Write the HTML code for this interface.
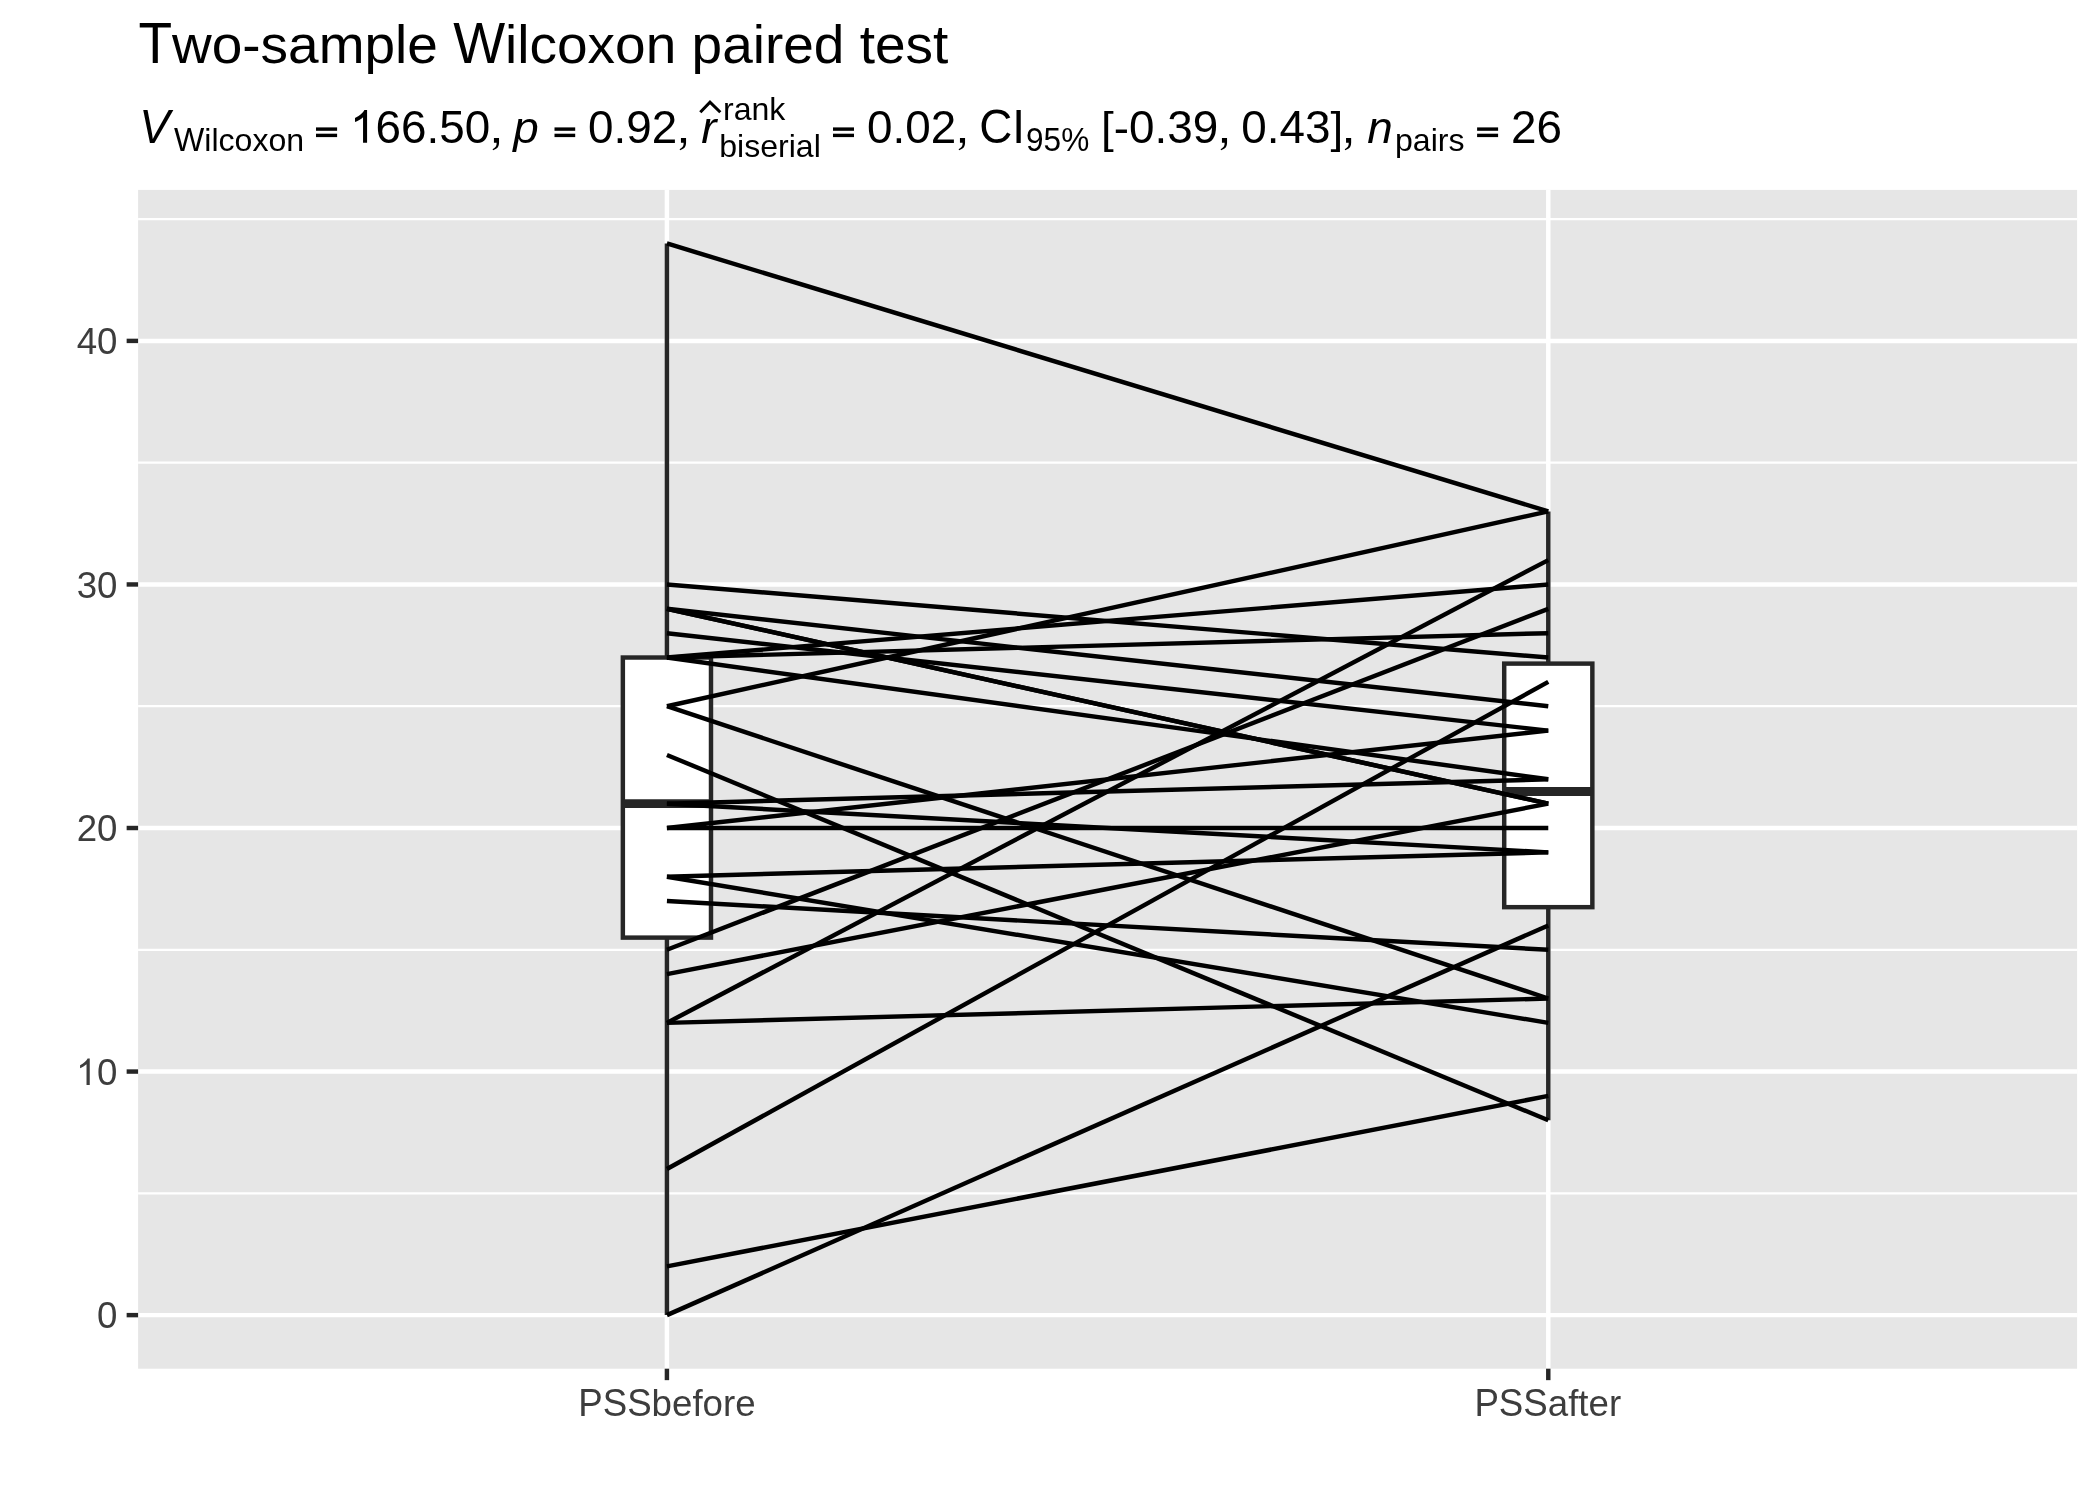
<!DOCTYPE html>
<html><head><meta charset="utf-8"><title>Two-sample Wilcoxon paired test</title>
<style>
html,body{margin:0;padding:0;background:#fff;}
svg{display:block;filter:grayscale(1);}
text{font-family:"Liberation Sans",sans-serif;font-kerning:none;}
</style></head><body>
<svg width="2100" height="1500" viewBox="0 0 2100 1500">
<rect x="0" y="0" width="2100" height="1500" fill="#fff"/>
<rect x="138.10" y="189.90" width="1939.00" height="1178.80" fill="#E6E6E6"/>
<g stroke="#fff" stroke-width="2.22" fill="none">
<line x1="138.10" x2="2077.10" y1="1193.34" y2="1193.34"/>
<line x1="138.10" x2="2077.10" y1="949.79" y2="949.79"/>
<line x1="138.10" x2="2077.10" y1="706.23" y2="706.23"/>
<line x1="138.10" x2="2077.10" y1="462.68" y2="462.68"/>
<line x1="138.10" x2="2077.10" y1="219.13" y2="219.13"/>
</g>
<g stroke="#fff" stroke-width="4.45" fill="none">
<line x1="138.10" x2="2077.10" y1="1315.12" y2="1315.12"/>
<line x1="138.10" x2="2077.10" y1="1071.56" y2="1071.56"/>
<line x1="138.10" x2="2077.10" y1="828.01" y2="828.01"/>
<line x1="138.10" x2="2077.10" y1="584.46" y2="584.46"/>
<line x1="138.10" x2="2077.10" y1="340.90" y2="340.90"/>
<line x1="666.92" x2="666.92" y1="189.90" y2="1368.70"/>
<line x1="1548.28" x2="1548.28" y1="189.90" y2="1368.70"/>
</g>
<g stroke="#262626" stroke-width="4.45" fill="none">
<line x1="666.92" x2="666.92" y1="657.52" y2="243.48"/>
<line x1="666.92" x2="666.92" y1="937.61" y2="1315.12"/>
<rect x="622.85" y="657.52" width="88.14" height="280.09" fill="#fff" stroke-linejoin="miter"/>
<line x1="622.85" x2="710.99" y1="803.66" y2="803.66" stroke-width="8.9"/>
</g>
<g stroke="#262626" stroke-width="4.45" fill="none">
<line x1="1548.28" x2="1548.28" y1="663.61" y2="511.39"/>
<line x1="1548.28" x2="1548.28" y1="907.17" y2="1120.28"/>
<rect x="1504.21" y="663.61" width="88.14" height="243.55" fill="#fff" stroke-linejoin="miter"/>
<line x1="1504.21" x2="1592.35" y1="791.48" y2="791.48" stroke-width="8.9"/>
</g>
<g stroke="#000" stroke-width="4.45" fill="none" stroke-linecap="butt">
<line x1="666.92" y1="243.48" x2="1548.28" y2="511.39"/>
<line x1="666.92" y1="584.46" x2="1548.28" y2="657.52"/>
<line x1="666.92" y1="608.81" x2="1548.28" y2="706.23"/>
<line x1="666.92" y1="608.81" x2="1548.28" y2="803.66"/>
<line x1="666.92" y1="608.81" x2="1548.28" y2="803.66"/>
<line x1="666.92" y1="633.17" x2="1548.28" y2="730.59"/>
<line x1="666.92" y1="657.52" x2="1548.28" y2="584.46"/>
<line x1="666.92" y1="657.52" x2="1548.28" y2="633.17"/>
<line x1="666.92" y1="657.52" x2="1548.28" y2="779.30"/>
<line x1="666.92" y1="706.23" x2="1548.28" y2="511.39"/>
<line x1="666.92" y1="706.23" x2="1548.28" y2="998.50"/>
<line x1="666.92" y1="754.94" x2="1548.28" y2="1120.28"/>
<line x1="666.92" y1="803.66" x2="1548.28" y2="779.30"/>
<line x1="666.92" y1="803.66" x2="1548.28" y2="852.37"/>
<line x1="666.92" y1="828.01" x2="1548.28" y2="828.01"/>
<line x1="666.92" y1="828.01" x2="1548.28" y2="730.59"/>
<line x1="666.92" y1="876.72" x2="1548.28" y2="852.37"/>
<line x1="666.92" y1="876.72" x2="1548.28" y2="1022.85"/>
<line x1="666.92" y1="901.08" x2="1548.28" y2="949.79"/>
<line x1="666.92" y1="949.79" x2="1548.28" y2="608.81"/>
<line x1="666.92" y1="974.14" x2="1548.28" y2="803.66"/>
<line x1="666.92" y1="1022.85" x2="1548.28" y2="560.10"/>
<line x1="666.92" y1="1022.85" x2="1548.28" y2="998.50"/>
<line x1="666.92" y1="1168.99" x2="1548.28" y2="681.88"/>
<line x1="666.92" y1="1266.41" x2="1548.28" y2="1095.92"/>
<line x1="666.92" y1="1315.12" x2="1548.28" y2="925.43"/>
</g>
<g stroke="#262626" stroke-width="4.45" fill="none">
<line x1="126.64" x2="138.10" y1="1315.12" y2="1315.12"/>
<line x1="126.64" x2="138.10" y1="1071.56" y2="1071.56"/>
<line x1="126.64" x2="138.10" y1="828.01" y2="828.01"/>
<line x1="126.64" x2="138.10" y1="584.46" y2="584.46"/>
<line x1="126.64" x2="138.10" y1="340.90" y2="340.90"/>
<line x1="666.92" x2="666.92" y1="1368.70" y2="1380.16"/>
<line x1="1548.28" x2="1548.28" y1="1368.70" y2="1380.16"/>
</g>
<g fill="#3D3D3D">
<text transform="translate(97.08 1328.47) scale(1 1.025)" font-size="36.67">0</text>
<text transform="translate(97.08 1084.91) scale(1 1.025)" font-size="36.67">0</text>
<path d="M763 0H583V1147Q518 1085 412.5 1023T223 930V1104Q373 1174.5 485.5 1275T644 1470H763V0Z" transform="translate(76.08 1084.91) scale(0.01791 -0.01791)" fill="#3D3D3D"/>
<text transform="translate(76.68 841.36) scale(1 1.025)" font-size="36.67">20</text>
<text transform="translate(76.68 597.81) scale(1 1.025)" font-size="36.67">30</text>
<text transform="translate(76.68 354.25) scale(1 1.025)" font-size="36.67">40</text>
<text transform="translate(578.24 1415.80) scale(1 1.04)" font-size="36.67">PSS</text>
<text transform="translate(651.62 1415.80) scale(1 0.985)" font-size="36.67">before</text>
<text transform="translate(1474.41 1415.80) scale(1 1.04)" font-size="36.67">PSS</text>
<text transform="translate(1547.78 1415.80) scale(1 0.985)" font-size="36.67">after</text>
</g>
<g fill="#000">
<text transform="translate(138.40 63.30) scale(1 1.04)" font-size="55">T</text>
<text transform="translate(172.00 63.30) scale(1 0.985)" font-size="55">wo-sample&#160;</text>
<text transform="translate(453.20 63.30) scale(1 1.04)" font-size="55">W</text>
<text transform="translate(505.11 63.30) scale(1 0.985)" font-size="55">ilcoxon&#160;paired&#160;test</text>
<text transform="translate(139.20 142.80) scale(1 1.04)" font-size="45.83" font-style="italic">V</text>
<text transform="translate(174.00 150.70) scale(1 1.04)" font-size="32.08">W</text>
<text transform="translate(204.28 150.70) scale(1 0.985)" font-size="32.08">ilcoxon</text>
<rect x="316.00" y="127.4" width="21.10" height="3.4" fill="#000"/><rect x="316.00" y="133.7" width="21.10" height="3.4" fill="#000"/>
<path d="M763 0H583V1147Q518 1085 412.5 1023T223 930V1104Q373 1174.5 485.5 1275T644 1470H763V0Z" transform="translate(350.00 142.80) scale(0.02238 -0.02238)" fill="#000"/>
<text transform="translate(375.49 142.80) scale(1 1.025)" font-size="45.83">66</text>
<text transform="translate(426.47 142.80) scale(1 0.985)" font-size="45.83">.</text>
<text transform="translate(439.20 142.80) scale(1 1.025)" font-size="45.83">50</text>
<path d="M172 0V210H400V0Q400 -120 350 -200T135 -330L112 -285Q200 -250 250 -180T292 0H172Z" transform="translate(490.08 142.80) scale(0.02238 -0.02238)" fill="#000"/>
<text transform="translate(513.30 142.80) scale(1 0.985)" font-size="45.83" font-style="italic">p</text>
<rect x="554.50" y="127.4" width="20.70" height="3.4" fill="#000"/><rect x="554.50" y="133.7" width="20.70" height="3.4" fill="#000"/>
<text transform="translate(588.00 142.80) scale(1 1.025)" font-size="45.83">0</text>
<text transform="translate(613.49 142.80) scale(1 0.985)" font-size="45.83">.</text>
<text transform="translate(626.22 142.80) scale(1 1.025)" font-size="45.83">92</text>
<path d="M172 0V210H400V0Q400 -120 350 -200T135 -330L112 -285Q200 -250 250 -180T292 0H172Z" transform="translate(677.10 142.80) scale(0.02238 -0.02238)" fill="#000"/>
<text transform="translate(701.30 142.80) scale(1 0.985)" font-size="45.83" font-style="italic">r</text>
<path d="M700.3 112.3 L710 102.1 L720.3 112.3" stroke="#000" stroke-width="3" fill="none" stroke-linejoin="miter"/>
<text transform="translate(723.00 119.70) scale(1 0.985)" font-size="32.08">rank</text>
<text transform="translate(719.20 156.90) scale(1 0.985)" font-size="32.08">biserial</text>
<rect x="833.00" y="127.4" width="21.00" height="3.4" fill="#000"/><rect x="833.00" y="133.7" width="21.00" height="3.4" fill="#000"/>
<text transform="translate(867.00 142.80) scale(1 1.025)" font-size="45.83">0</text>
<text transform="translate(892.49 142.80) scale(1 0.985)" font-size="45.83">.</text>
<text transform="translate(905.22 142.80) scale(1 1.025)" font-size="45.83">02</text>
<path d="M172 0V210H400V0Q400 -120 350 -200T135 -330L112 -285Q200 -250 250 -180T292 0H172Z" transform="translate(956.10 142.80) scale(0.02238 -0.02238)" fill="#000"/>
<text transform="translate(979.20 142.80) scale(1 1.04)" font-size="45.83">CI</text>
<text transform="translate(1026.00 150.70) scale(0.985 1.025)" font-size="32.08">95%</text>
<text transform="translate(1101.00 142.80) scale(1 0.985)" font-size="45.83">[-</text>
<text transform="translate(1128.99 142.80) scale(1 1.025)" font-size="45.83">0</text>
<text transform="translate(1154.48 142.80) scale(1 0.985)" font-size="45.83">.</text>
<text transform="translate(1167.22 142.80) scale(1 1.025)" font-size="45.83">39</text>
<path d="M172 0V210H400V0Q400 -120 350 -200T135 -330L112 -285Q200 -250 250 -180T292 0H172Z" transform="translate(1218.09 142.80) scale(0.02238 -0.02238)" fill="#000"/>
<text transform="translate(1241.20 142.80) scale(1 1.025)" font-size="45.83">0</text>
<text transform="translate(1266.69 142.80) scale(1 0.985)" font-size="45.83">.</text>
<text transform="translate(1279.42 142.80) scale(1 1.025)" font-size="45.83">43</text>
<text transform="translate(1330.40 142.80) scale(1 0.985)" font-size="45.83">]</text>
<path d="M172 0V210H400V0Q400 -120 350 -200T135 -330L112 -285Q200 -250 250 -180T292 0H172Z" transform="translate(1342.20 142.80) scale(0.02238 -0.02238)" fill="#000"/>
<text transform="translate(1367.20 142.80) scale(1 0.985)" font-size="45.83" font-style="italic">n</text>
<text transform="translate(1395.00 150.70) scale(1 0.985)" font-size="32.08">pairs</text>
<rect x="1477.10" y="127.4" width="21.00" height="3.4" fill="#000"/><rect x="1477.10" y="133.7" width="21.00" height="3.4" fill="#000"/>
<text transform="translate(1511.00 142.80) scale(1 1.025)" font-size="45.83">26</text>
</g>
</svg>
</body></html>
